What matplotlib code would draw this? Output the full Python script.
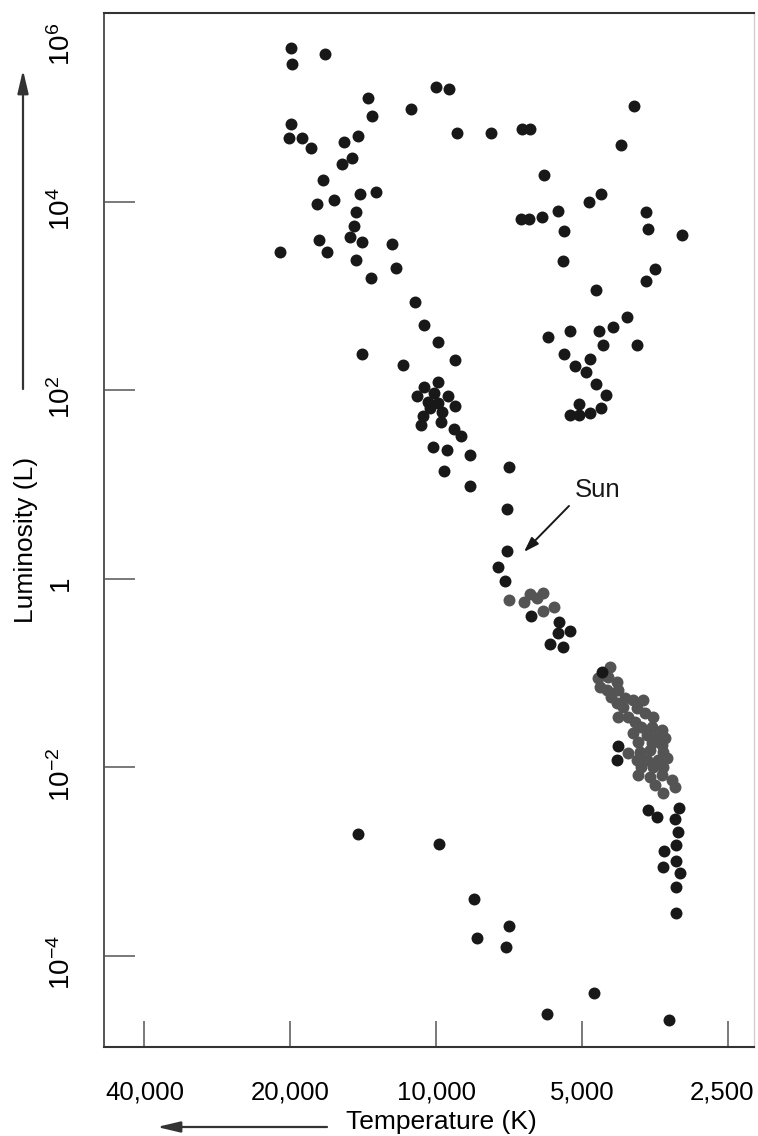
import math

import matplotlib
matplotlib.use("Agg")
import matplotlib.pyplot as plt
from matplotlib.transforms import ScaledTranslation

plt.rcParams["font.family"] = ["Liberation Sans", "DejaVu Sans"]
plt.rcParams["mathtext.fontset"] = "custom"
plt.rcParams["mathtext.rm"] = "Liberation Sans"
plt.rcParams["mathtext.it"] = "Liberation Sans:italic"
plt.rcParams["mathtext.bf"] = "Liberation Sans:bold"

# values, as log10(T / K) and log10(L / Lsun)
hot_giants_logT = [4.300, 4.297, 4.229, 4.141, 4.132, 4.000, 3.973, 4.051, 3.956, 3.886,
                   4.300, 4.303, 4.277, 4.258, 4.190, 4.162, 4.174, 4.194, 4.233, 4.157,
                   4.123, 4.211, 4.245, 4.166, 4.169, 4.178, 4.152, 4.241, 4.090, 4.322,
                   4.225, 4.165, 4.083, 4.135, 4.044, 4.153, 4.068, 4.024, 3.997, 3.960]
hot_giants_logL = [5.637, 5.467, 5.573, 5.107, 4.916, 5.220, 5.199, 4.984, 4.729, 4.729,
                   4.828, 4.679, 4.679, 4.570, 4.637, 4.700, 4.470, 4.403, 4.230, 4.088,
                   4.106, 4.018, 3.979, 3.897, 3.749, 3.629, 3.579, 3.597, 3.558, 3.466,
                   3.466, 3.388, 3.303, 3.197, 2.939, 2.387, 2.271, 2.695, 2.515, 2.327]

cool_giants_logT = [3.823, 3.806, 3.592, 3.618, 3.778, 3.684, 3.660, 3.825, 3.809, 3.781,
                    3.748, 3.735, 3.567, 3.562, 3.493, 3.739, 3.549, 3.566, 3.670, 3.606,
                    3.635, 3.663, 3.724, 3.768, 3.655, 3.586, 3.736, 3.683, 3.713, 3.691,
                    3.670, 3.649, 3.704, 3.659, 3.724, 3.704, 3.682]
cool_giants_logL = [4.775, 4.775, 5.019, 4.608, 4.283, 4.000, 4.080, 3.814, 3.820, 3.838,
                    3.905, 3.692, 3.889, 3.717, 3.647, 3.374, 3.294, 3.162, 3.066, 2.780,
                    2.674, 2.631, 2.629, 2.565, 2.481, 2.485, 2.384, 2.332, 2.257, 2.191,
                    2.067, 1.950, 1.857, 1.811, 1.743, 1.743, 1.756]

main_seq_logT = [3.997, 4.024, 4.040, 4.004, 3.975, 4.016, 3.996, 3.960, 4.013, 3.988,
                 4.026, 3.990, 4.031, 3.964, 3.949, 4.006, 3.978, 3.930, 3.983, 3.930,
                 3.849, 3.853, 3.854, 3.873, 3.857,
                 3.805, 3.746, 3.724, 3.748, 3.765, 3.739,
                 3.658, 3.624, 3.627,
                 3.562, 3.543, 3.498, 3.507, 3.501, 3.505, 3.530, 3.505, 3.532, 3.497,
                 3.505, 3.505]
main_seq_logL = [2.087, 2.040, 1.945, 1.970, 1.942, 1.881, 1.864, 1.832, 1.811, 1.775,
                 1.733, 1.669, 1.634, 1.588, 1.517, 1.401, 1.366, 1.316, 1.146, 0.990,
                 1.188, 0.740, 0.300, 0.124, -0.021,
                 -0.393, -0.459, -0.552, -0.570, -0.693, -0.725,
                 -0.984, -1.772, -1.920,
                 -2.451, -2.522, -2.427, -2.550, -2.681, -2.822, -2.883, -2.989, -3.059, -3.123,
                 -3.271, -3.541]

nearby_logT = [3.850, 3.819, 3.806, 3.779, 3.792, 3.757, 3.780,
               3.641, 3.665, 3.645, 3.627, 3.662, 3.648, 3.624, 3.638, 3.610, 3.627,
               3.593, 3.572, 3.614, 3.586, 3.624, 3.603, 3.569, 3.552, 3.590, 3.576,
               3.555, 3.534, 3.593, 3.565, 3.545, 3.528, 3.583, 3.555, 3.534, 3.603,
               3.579, 3.559, 3.531, 3.586, 3.565, 3.541, 3.524, 3.576, 3.552, 3.531,
               3.583, 3.559, 3.534, 3.514, 3.548, 3.507, 3.531]
nearby_logL = [-0.223, -0.241, -0.159, -0.145, -0.205, -0.294, -0.336,
               -0.931, -1.054, -1.037, -1.090, -1.143, -1.178, -1.178, -1.249, -1.266, -1.319,
               -1.284, -1.284, -1.355, -1.372, -1.461, -1.461, -1.425, -1.461, -1.514, -1.567,
               -1.567, -1.602, -1.637, -1.655, -1.673, -1.690, -1.726, -1.743, -1.761, -1.849,
               -1.832, -1.814, -1.832, -1.920, -1.920, -1.920, -1.902, -1.992, -1.992, -1.992,
               -2.080, -2.098, -2.080, -2.133, -2.186, -2.204, -2.274]

faint_logT = [4.161, 3.994, 3.922, 3.916, 3.850, 3.856, 3.772, 3.674, 3.519]
faint_logL = [-2.706, -2.812, -3.395, -3.809, -3.682, -3.905, -4.615, -4.393, -4.679]

temp_ticks = [40000, 20000, 10000, 5000, 2500]
temp_labels = ["40,000", "20,000", "10,000", "5,000", "2,500"]
lum_ticks = [-4, -2, 0, 2, 4, 6]
lum_labels = [r"$\mathregular{10^{-4}}$", r"$\mathregular{10^{-2}}$", r"$\mathregular{1}$",
              r"$\mathregular{10^{2}}$", r"$\mathregular{10^{4}}$", r"$\mathregular{10^{6}}$"]

BLACK = "#181818"
GRAY = "#545454"

fig = plt.figure(figsize=(7.58, 11.36), dpi=100)
ax = fig.add_axes([104 / 758, 89 / 1136, 650 / 758, 1034 / 1136])

dot = dict(linestyle="none", marker="o", markersize=8.6, markeredgewidth=0)
ax.plot(nearby_logT, nearby_logL, color=GRAY, **dot)
for xs, ys in [(hot_giants_logT, hot_giants_logL), (cool_giants_logT, cool_giants_logL),
               (main_seq_logT, main_seq_logL), (faint_logT, faint_logL)]:
    ax.plot(xs, ys, color=BLACK, **dot)

ax.set_xlim(4.6854, 3.3438)
ax.set_ylim(-4.966, 6.005)

ax.set_xticks([math.log10(t) for t in temp_ticks])
ax.set_xticklabels(temp_labels)
ax.set_yticks(lum_ticks)
ax.set_yticklabels(lum_labels)

ax.tick_params(axis="x", direction="in", length=19, width=1.1, color="#555555",
               pad=24, labelsize=18.5)
ax.tick_params(axis="y", direction="in", length=22, width=1.1, color="#555555",
               pad=20, labelsize=20, labelrotation=90)

# the scan sets the y labels a little below their ticks, 10^6 well below the top edge
for lab, val in zip(ax.get_yticklabels(), lum_ticks):
    shift = -31 if val == 6 else -7
    lab.set_transform(lab.get_transform() + ScaledTranslation(0, shift / 100, fig.dpi_scale_trans))
    lab.set_va("center")
ax.yaxis.get_major_ticks()[-1].tick1line.set_visible(False)

# last temperature label sits a touch left of its tick, inside the page
last = ax.get_xticklabels()[-1]
last.set_transform(last.get_transform() + ScaledTranslation(-6 / 100, 0, fig.dpi_scale_trans))

for side, col, lw in [("left", "#555555", 1.4), ("bottom", "#333333", 1.5),
                      ("top", "#333333", 1.5), ("right", "#d0d0d0", 1.0)]:
    ax.spines[side].set_color(col)
    ax.spines[side].set_linewidth(lw)

ax.set_xlabel("Temperature (K)", fontsize=19)
ax.xaxis.set_label_coords(0.519, -0.061)
ax.set_ylabel("Luminosity (L)", fontsize=19)
ax.yaxis.set_label_coords(-0.101, 0.49)

# direction arrows outside the frame
arrow = dict(arrowstyle="-|>,head_length=1.4,head_width=0.33",
             color="#333333", lw=1.6, shrinkA=0, shrinkB=0)
ax.annotate("", xy=(23, 1066), xytext=(23, 747), xycoords="figure pixels",
            textcoords="figure pixels", arrowprops=arrow)
ax.annotate("", xy=(157, 9), xytext=(327, 9), xycoords="figure pixels",
            textcoords="figure pixels", arrowprops=arrow)

# Sun marker
ax.text(3.6658, 0.944, "Sun", fontsize=18.5, ha="center", va="center", color=BLACK)
ax.annotate("", xy=(3.8186, 0.2865), xytext=(3.7257, 0.7745),
            arrowprops=dict(arrowstyle="-|>,head_length=0.9,head_width=0.3",
                            color=BLACK, lw=1.4, shrinkA=0, shrinkB=0))

fig.savefig("out.png", dpi=100)
